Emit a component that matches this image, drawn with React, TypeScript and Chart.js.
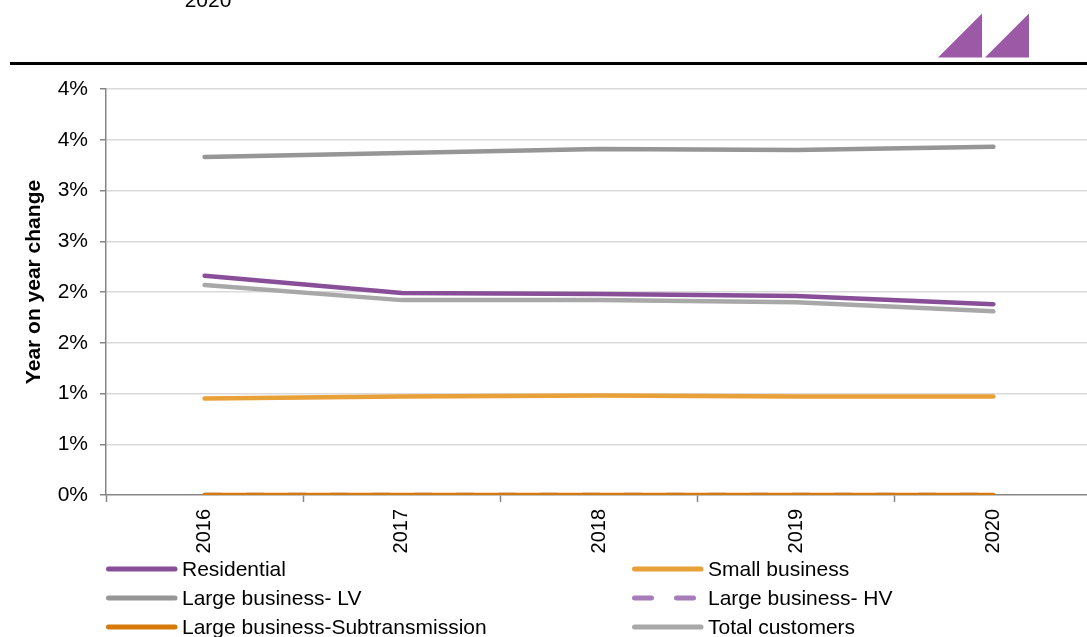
import React, { useEffect, useRef } from "react";
import { Chart, registerables } from "chart.js";

Chart.register(...registerables);

// Year-on-year change in customer numbers, percent
const years = ["2016", "2017", "2018", "2019", "2020"];
const residential = [2.16, 1.99, 1.98, 1.96, 1.88];
const smallBusiness = [0.95, 0.97, 0.98, 0.97, 0.97];
const largeBusinessLV = [3.33, 3.37, 3.41, 3.4, 3.43];
const largeBusinessHV = [0, 0, 0, 0, 0];
const largeBusinessSubtransmission = [0, 0, 0, 0, 0];
const totalCustomers = [2.07, 1.92, 1.92, 1.9, 1.81];

const seriesNames = [
  "Residential",
  "Small business",
  "Large business- LV",
  "Large business- HV",
  "Large business-Subtransmission",
  "Total customers",
];

const yMax = 4;
const yStep = 0.5;
const headerText = "2020";
const yTitle = "Year on year change";

const FONT = "'Liberation Sans', Arial, Helvetica, sans-serif";
const AXIS_GREY = "#868686";
const HV_DASH = [17, 25];

// Header rule, logo, axis title and two-column legend
const decorPlugin = {
  id: "decor",
  afterDraw(chart: any) {
    const ctx = chart.ctx as CanvasRenderingContext2D;
    ctx.save();

    // header text (partly above the page edge)
    ctx.fillStyle = "#000";
    ctx.font = `21px ${FONT}`;
    ctx.textAlign = "center";
    ctx.textBaseline = "alphabetic";
    ctx.fillText(headerText, 208, 7);

    // header rule
    ctx.fillRect(10, 62, 1100, 3);

    // logo
    ctx.fillStyle = "#9B59A6";
    const tri = (x0: number) => {
      ctx.beginPath();
      ctx.moveTo(x0, 57.5);
      ctx.lineTo(x0 + 44, 13.5);
      ctx.lineTo(x0 + 44, 57.5);
      ctx.closePath();
      ctx.fill();
    };
    tri(938);
    tri(985);

    // y-axis title
    ctx.save();
    ctx.translate(34, 282);
    ctx.rotate(-Math.PI / 2);
    ctx.fillStyle = "#000";
    ctx.font = `bold 21px ${FONT}`;
    ctx.textAlign = "center";
    ctx.textBaseline = "middle";
    ctx.fillText(yTitle, 0, 0);
    ctx.restore();

    // legend
    const colX = [106, 632];
    const rowY = [569, 598, 627];
    chart.data.datasets.forEach((ds: any, i: number) => {
      const x = colX[i % 2];
      const y = rowY[Math.floor(i / 2)];
      ctx.save();
      ctx.strokeStyle = ds.borderColor;
      ctx.lineWidth = 5;
      ctx.lineCap = "round";
      ctx.setLineDash(ds.borderDash || []);
      ctx.beginPath();
      ctx.moveTo(x + 2.5, y);
      ctx.lineTo(x + 69, y);
      ctx.stroke();
      ctx.restore();
      ctx.fillStyle = "#000";
      ctx.font = `21px ${FONT}`;
      ctx.textAlign = "left";
      ctx.textBaseline = "middle";
      ctx.fillText(ds.label, x + 76, y + 1);
    });

    ctx.restore();
  },
};

export default function App() {
  const canvasRef = useRef<HTMLCanvasElement | null>(null);

  useEffect(() => {
    document.body.style.margin = "0";
    const canvas = canvasRef.current;
    if (!canvas) return;

    const line = (label: string, data: number[], color: string, order: number, dash?: number[]) => ({
      label,
      data,
      borderColor: color,
      backgroundColor: color,
      borderWidth: 4.5,
      borderCapStyle: "round" as const,
      borderJoinStyle: "round" as const,
      borderDash: dash,
      pointRadius: 0,
      pointHoverRadius: 0,
      tension: 0,
      fill: false,
      order,
    });

    const chart = new Chart(canvas, {
      type: "line",
      data: {
        labels: years,
        datasets: [
          line(seriesNames[0], residential, "#894E98", 2),
          line(seriesNames[1], smallBusiness, "#E8A038", 3),
          line(seriesNames[2], largeBusinessLV, "#969696", 4),
          line(seriesNames[3], largeBusinessHV, "#A57DB8", 6, HV_DASH),
          line(seriesNames[4], largeBusinessSubtransmission, "#D67A0C", 1),
          line(seriesNames[5], totalCustomers, "#A8A8A8", 5),
        ],
      },
      options: {
        responsive: false,
        animation: false,
        events: [],
        layout: { padding: { top: 89, right: 8, left: 0, bottom: 0 } },
        plugins: {
          legend: { display: false },
          tooltip: { enabled: false },
        },
        scales: {
          x: {
            offset: true,
            grid: {
              offset: true,
              drawOnChartArea: false,
              drawTicks: true,
              tickLength: 7,
              tickColor: AXIS_GREY,
              tickWidth: 1.5,
            },
            border: { color: AXIS_GREY, width: 1.5 },
            ticks: {
              minRotation: 90,
              maxRotation: 90,
              padding: 7,
              color: "#000",
              font: { family: FONT, size: 20 },
            },
            afterFit(scale: any) {
              scale.height = 142;
              scale.paddingLeft = 0;
              scale.paddingRight = 0;
            },
          },
          y: {
            min: 0,
            max: yMax,
            ticks: {
              stepSize: yStep,
              padding: 12,
              color: "#000",
              font: { family: FONT, size: 21 },
              callback: (v: any) => `${Math.round(Number(v))}%`,
            },
            grid: {
              color: (c: any) => (c.tick && c.tick.value === 0 ? "rgba(0,0,0,0)" : "#dadada"),
              lineWidth: 1.5,
              tickColor: AXIS_GREY,
              tickLength: 6,
              tickWidth: 1.5,
            },
            border: { color: AXIS_GREY, width: 1.5 },
            afterFit(scale: any) {
              scale.width = 106;
            },
          },
        },
      },
      plugins: [decorPlugin],
    });

    return () => chart.destroy();
  }, []);

  return (
    <div
      style={{
        position: "fixed",
        left: 0,
        top: 0,
        width: 1087,
        height: 637,
        overflow: "hidden",
        background: "#fff",
      }}
    >
      <canvas ref={canvasRef} width={1100} height={637} style={{ width: 1100, height: 637, display: "block" }} />
    </div>
  );
}
